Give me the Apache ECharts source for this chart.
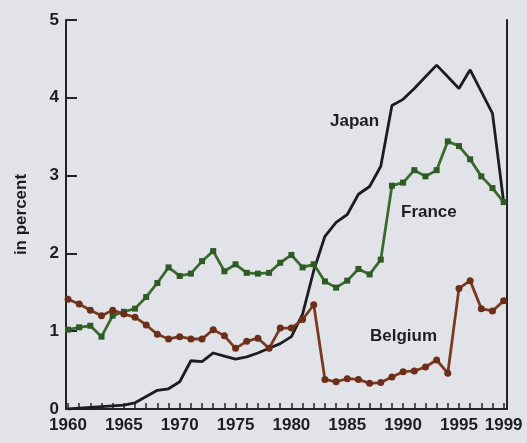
<!DOCTYPE html>
<html><head><meta charset="utf-8">
<script src="https://cdn.jsdelivr.net/npm/echarts@6/dist/echarts.min.js"></script>
<style>html,body{margin:0;padding:0;background:#e1e3e8;}#c{width:527px;height:443px;}</style>
</head><body><div id="c"></div>
<script>
const years = [1960,1961,1962,1963,1964,1965,1966,1967,1968,1969,1970,1971,1972,1973,1974,1975,1976,1977,1978,1979,1980,1981,1982,1983,1984,1985,1986,1987,1988,1989,1990,1991,1992,1993,1994,1995,1996,1997,1998,1999];
const japan = [0.00,0.01,0.02,0.03,0.04,0.05,0.08,0.16,0.24,0.26,0.35,0.62,0.61,0.72,0.68,0.64,0.67,0.72,0.78,0.84,0.93,1.22,1.78,2.22,2.40,2.50,2.76,2.86,3.12,3.90,3.98,4.12,4.27,4.42,4.27,4.12,4.36,4.08,3.80,2.66];
const france = [1.02,1.05,1.07,0.93,1.20,1.25,1.29,1.44,1.62,1.82,1.71,1.74,1.90,2.03,1.77,1.86,1.75,1.74,1.75,1.88,1.98,1.82,1.86,1.64,1.56,1.65,1.80,1.73,1.92,2.87,2.91,3.07,2.99,3.07,3.44,3.38,3.21,2.99,2.84,2.66];
const belgium = [1.41,1.35,1.27,1.20,1.27,1.22,1.18,1.08,0.96,0.90,0.93,0.90,0.90,1.02,0.94,0.78,0.87,0.91,0.78,1.04,1.04,1.15,1.34,0.38,0.35,0.39,0.38,0.33,0.34,0.41,0.48,0.49,0.54,0.63,0.46,1.55,1.65,1.29,1.26,1.39];
const xLabels = [1960,1965,1970,1975,1980,1985,1990,1995,1999];
const yTicks = [0,1,2,3,4,5];
const seriesNames = ['Japan','France','Belgium'];

const pair = (arr) => years.map((y,i)=>[y,arr[i]]);
const chart = echarts.init(document.getElementById('c'));
const axisCol = '#242428';
const txtCol = '#1e1e22';
const font = '"Liberation Sans", Arial, sans-serif';
chart.setOption({
  backgroundColor: '#e1e3e8',
  animation: false,
  grid: {left: 66, right: 20, top: 20, bottom: 34},
  xAxis: {
    type: 'value', min: 1959.82, max: 1999.3,
    axisLine: {show: true, onZero: false, lineStyle: {color: axisCol, width: 2}},
    axisTick: {show: true, inside: true, length: 6, customValues: years, lineStyle: {color: axisCol, width: 1.5}},
    axisLabel: {customValues: xLabels, color: txtCol, fontFamily: font, fontWeight: 'bold', fontSize: 17, margin: 8, formatter: v => String(v)},
    splitLine: {show: false}
  },
  yAxis: [{
    type: 'value', min: 0, max: 5, interval: 1,
    name: 'in percent', nameLocation: 'middle', nameGap: 36, nameRotate: 90,
    nameTextStyle: {color: txtCol, fontFamily: font, fontWeight: 'bold', fontSize: 17},
    axisLine: {show: true, lineStyle: {color: axisCol, width: 2}},
    axisTick: {show: true, inside: true, length: 11, customValues: yTicks, lineStyle: {color: axisCol, width: 2}},
    axisLabel: {color: txtCol, fontFamily: font, fontWeight: 'bold', fontSize: 17, margin: 7},
    splitLine: {show: false}
  },{
    type: 'value', min: 0, max: 5, position: 'right',
    axisLine: {show: true, lineStyle: {color: axisCol, width: 2}},
    axisTick: {show: false}, axisLabel: {show: false}, splitLine: {show: false}
  }],
  series: [
    {name: seriesNames[0], type: 'line', data: pair(japan), showSymbol: false, symbol: 'none',
     lineStyle: {color: '#1c1c22', width: 2.8}, z: 2},
    {name: seriesNames[1], type: 'line', data: pair(france), symbol: 'rect', symbolSize: 6,
     itemStyle: {color: '#2e5a25'}, lineStyle: {color: '#3a6a2e', width: 2.8}, z: 3},
    {name: seriesNames[2], type: 'line', data: pair(belgium), symbol: 'circle', symbolSize: 7,
     itemStyle: {color: '#6b2e1a'}, lineStyle: {color: '#7a3a22', width: 2.8}, z: 3}
  ],
  graphic: [
    {type: 'text', left: 330, top: 113, style: {text: seriesNames[0], fill: txtCol, font: 'bold 17px "Liberation Sans", Arial, sans-serif'}},
    {type: 'text', left: 401, top: 204, style: {text: seriesNames[1], fill: txtCol, font: 'bold 17px "Liberation Sans", Arial, sans-serif'}},
    {type: 'text', left: 370, top: 328, style: {text: seriesNames[2], fill: txtCol, font: 'bold 17px "Liberation Sans", Arial, sans-serif'}}
  ]
});
</script></body></html>
